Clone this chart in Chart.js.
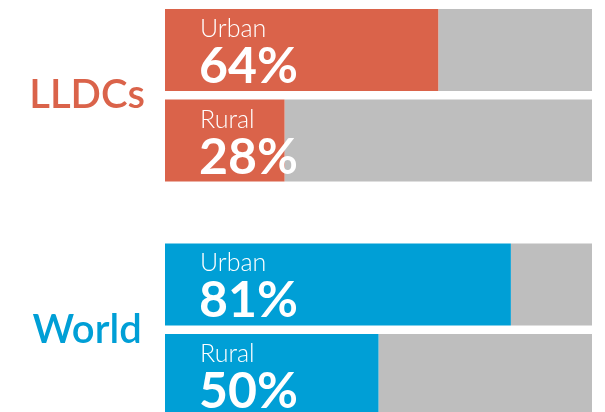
<!DOCTYPE html>
<html>
<head>
<meta charset="utf-8">
<script src="https://cdn.jsdelivr.net/npm/chart.js@4/dist/chart.umd.min.js"></script>
<style>
  html, body { margin: 0; padding: 0; background: #fff; overflow: hidden; }
  #wrap { position: absolute; left: 0; top: -22px; width: 605px; height: 469px; }
</style>
</head>
<body>
<div id="wrap"><canvas id="grafico"></canvas></div>
<script>
// datos
const grupos = ["LLDCs", "World"];
const zonas = ["Urban", "Rural"];
const urbano = [64, 81];
const rural = [28, 50];
const coloresGrupo = ["#DA634A", "#009FD6"];
const gris = "#BEBEBE";

const valores = [urbano, rural];

// un stack por zona: valor coloreado + resto gris
const datasets = [];
zonas.forEach((zona, i) => {
  datasets.push({
    label: zona,
    data: valores[i],
    backgroundColor: coloresGrupo,
    stack: zona,
    esValor: true
  });
  datasets.push({
    label: zona + " resto",
    data: valores[i].map(v => 100 - v),
    backgroundColor: gris,
    stack: zona
  });
});

// textos dentro de las barras
const etiquetasBarras = {
  id: "etiquetasBarras",
  afterDatasetsDraw(chart) {
    const ctx = chart.ctx;
    const left = chart.chartArea.left;
    chart.data.datasets.forEach((ds, di) => {
      if (!ds.esValor) return;
      chart.getDatasetMeta(di).data.forEach((bar, j) => {
        ctx.save();
        ctx.fillStyle = "#fff";
        ctx.textAlign = "left";
        ctx.textBaseline = "alphabetic";
        ctx.font = "300 25px Lato";
        ctx.fillText(ds.label, left + 35, bar.y - 13);
        ctx.font = "bold 50px Lato";
        ctx.fillText(ds.data[j] + "%", left + 34, bar.y + 33);
        ctx.restore();
      });
    });
  }
};

new Chart(document.getElementById("grafico"), {
  type: "bar",
  data: { labels: grupos, datasets: datasets },
  plugins: [etiquetasBarras],
  options: {
    indexAxis: "y",
    responsive: true,
    maintainAspectRatio: false,
    animation: false,
    categoryPercentage: 0.772,
    barPercentage: 0.906,
    layout: { padding: { left: 0, right: 13, top: 0, bottom: 0 } },
    plugins: {
      legend: { display: false },
      tooltip: { enabled: false }
    },
    scales: {
      x: {
        stacked: true,
        min: 0,
        max: 100,
        display: false
      },
      y: {
        stacked: true,
        grid: { display: false },
        border: { display: false },
        afterFit(scale) {
          scale.width = 165;
          scale.paddingTop = 0;
          scale.paddingBottom = 0;
        },
        ticks: {
          crossAlign: "center",
          padding: 12,
          color: ctx => coloresGrupo[ctx.index],
          font: { family: "Lato", size: 40, weight: "600" }
        }
      }
    }
  }
});
</script>
</body>
</html>
